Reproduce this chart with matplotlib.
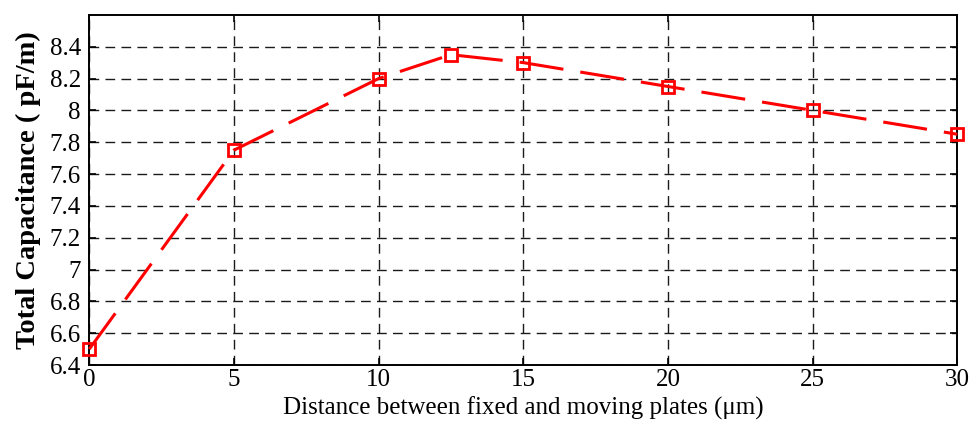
import numpy as np
import matplotlib.pyplot as plt

plt.rcParams['font.family'] = ['Liberation Serif', 'DejaVu Serif']

distance = [0, 5, 10, 12.5, 15, 20, 25, 30]
capacitance = [6.5, 7.75, 8.2, 8.35, 8.3, 8.15, 8.0, 7.85]
x_ticks = [0, 5, 10, 15, 20, 25, 30]
y_ticks = [6.4, 6.6, 6.8, 7.0, 7.2, 7.4, 7.6, 7.8, 8.0, 8.2, 8.4]
y_labels = ['6.4', '6.6', '6.8', '7', '7.2', '7.4', '7.6', '7.8', '8', '8.2', '8.4']

fig = plt.figure(figsize=(9.7, 4.25), dpi=100)
ax = fig.add_axes([0.092, 0.141, 0.895, 0.824])

line, = ax.plot(distance, capacitance, color='red', lw=2.2, ls='--',
                marker='s', markersize=9, markerfacecolor='none',
                markeredgecolor='red', markeredgewidth=2.0, clip_on=False, zorder=3)
line.set_dashes((14.5, 5.6))

ax.set_xlim(0, 30)
ax.set_ylim(6.4, 8.6)
ax.set_xticks(x_ticks)
ax.set_yticks(y_ticks)
ax.set_yticklabels(y_labels)
ax.tick_params(direction='in', top=True, right=True, labelsize=18, length=5, width=1.2)
ax.tick_params(axis='x', pad=3)
ax.tick_params(axis='y', pad=6)
ax.grid(True, color='#1a1a1a', ls=(0, (7, 4.5)), lw=1.0)
for s in ax.spines.values():
    s.set_linewidth(1.4)

ax.set_xlabel('Distance between fixed and moving plates (\u03bcm)', fontsize=18, labelpad=4)
ax.set_ylabel('Total Capacitance ( pF/m)', fontsize=20.5, fontweight='bold', labelpad=6)

fig.savefig('out.png', dpi=100)
